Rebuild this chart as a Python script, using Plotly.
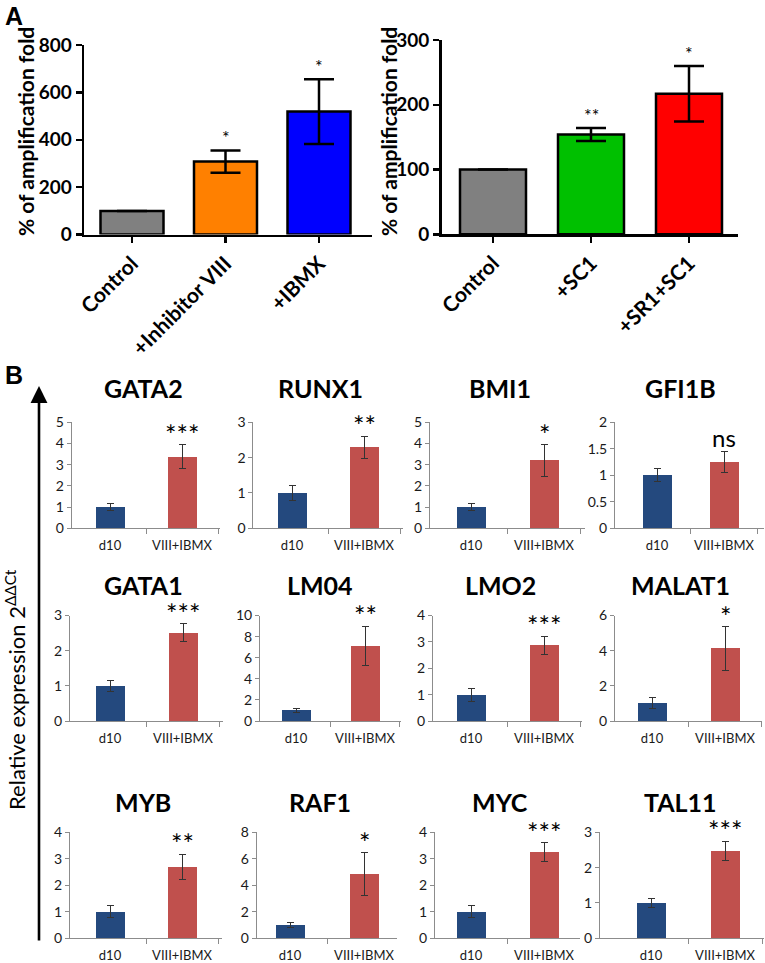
import plotly.graph_objects as go

W, H = 765, 963

# ---------------- Panel A data ----------------
a1_cats = ["Control", "+Inhibitor VIII", "+IBMX"]
a1_vals = [100, 308, 519]
a1_err = [0, 47, 137]
a1_sig = ["", "*", "*"]
a1_colors = ["#808080", "#FF8000", "#0000FF"]
a1_ticks = [0, 200, 400, 600, 800]

a2_cats = ["Control", "+SC1", "+SR1+SC1"]
a2_vals = [100, 154, 217]
a2_err = [0, 10, 43]
a2_sig = ["", "**", "*"]
a2_colors = ["#808080", "#00C000", "#FF0000"]
a2_ticks = [0, 100, 200, 300]

a_ylabel = "% of amplification fold"

# ---------------- Panel B data ----------------
genes = ["GATA2", "RUNX1", "BMI1", "GFI1B",
         "GATA1", "LM04", "LMO2", "MALAT1",
         "MYB", "RAF1", "MYC", "TAL11"]
groups = ["d10", "VIII+IBMX"]
d10_vals = [1, 1, 1, 1, 1, 1, 1, 1, 1, 1, 1, 1]
d10_err = [0.18, 0.22, 0.15, 0.12, 0.16, 0.20, 0.25, 0.31, 0.22, 0.17, 0.22, 0.12]
trt_vals = [3.37, 2.29, 3.20, 1.25, 2.51, 7.15, 2.87, 4.13, 2.70, 4.83, 3.25, 2.47]
trt_err = [0.57, 0.32, 0.75, 0.19, 0.25, 1.85, 0.35, 1.23, 0.48, 1.63, 0.35, 0.28]
sig = ["***", "**", "*", "ns", "***", "**", "***", "*", "**", "*", "***", "***"]
ymax = [5, 3, 5, 2, 3, 10, 4, 6, 4, 8, 4, 3]
ydtick = [1, 1, 1, 0.5, 1, 2, 1, 2, 1, 2, 1, 1]
b_ylabel = "Relative expression 2<sup>ΔΔCt</sup>"

# ---------------- layout geometry (pixels) ----------------
FONT = "Lato, 'Open Sans', sans-serif"
BLUE = "#24497E"
RED = "#C0504D"
AX = "#8C8C8C"


def px(x):
    return x / W


def py(y):
    return 1 - y / H


def fmt(v):
    return f"<b>{v}</b>"


fig = go.Figure()
layout = dict(width=W, height=H, margin=dict(l=0, r=0, t=0, b=0, pad=0, autoexpand=False),
              plot_bgcolor="white", paper_bgcolor="white",
              showlegend=False, font=dict(family=FONT, color="black"),
              bargap=0)
annotations = []

# Panel A subplots: (axis_x, first_center, spacing, right_end, y_bottom, y_top, ymax)
a_geo = [
    (84, 132, 93.5, 372, 234.6, 45, 800),
    (441.7, 493, 98, 738, 234.3, 40, 300),
]
a_sets = [(a1_cats, a1_vals, a1_err, a1_sig, a1_colors, a1_ticks),
          (a2_cats, a2_vals, a2_err, a2_sig, a2_colors, a2_ticks)]

for k, ((axx, c0, sp, rx, yb, yt, ym), (cats, vals, errs, sigs, cols, yt_vals)) in enumerate(zip(a_geo, a_sets)):
    n = k + 1
    xn = "x" if n == 1 else f"x{n}"
    yn = "y" if n == 1 else f"y{n}"
    idx = list(range(len(cats)))
    fig.add_trace(go.Bar(
        x=idx, y=vals, width=63 / 93.5 if k == 0 else 66 / 98,
        marker=dict(color=cols, line=dict(color="black", width=2.5)),
        error_y=dict(type="data", array=errs, visible=True, color="black",
                     thickness=2.5, width=15),
        xaxis=xn, yaxis=yn, hoverinfo="skip"))
    xkey = "xaxis" if n == 1 else f"xaxis{n}"
    ykey = "yaxis" if n == 1 else f"yaxis{n}"
    layout[xkey] = dict(domain=[px(axx), px(rx)], anchor=yn, automargin=False,
                        range=[(axx - c0) / sp, (rx - c0) / sp],
                        tickmode="array", tickvals=idx, ticktext=[fmt(c) for c in cats],
                        tickangle=-45, showline=True, linecolor="black", linewidth=2.5,
                        ticks="outside", ticklen=6, tickwidth=2.5, tickcolor="black",
                        tickfont=dict(size=21, family=FONT, color="black"),
                        showgrid=False, zeroline=False, fixedrange=True)
    layout[ykey] = dict(domain=[py(yb), py(yt)], anchor=xn, range=[0, ym], automargin=False,
                        tickmode="array", tickvals=yt_vals, ticktext=[fmt(v) for v in yt_vals],
                        showline=True, linecolor="black", linewidth=2.5,
                        ticks="outside", ticklen=6, tickwidth=2.5, tickcolor="black",
                        tickfont=dict(size=19, family=FONT, color="black"),
                        showgrid=False, zeroline=False, fixedrange=True)
    for i, s in enumerate(sigs):
        if s:
            annotations.append(dict(x=i, y=vals[i] + errs[i], xref=xn, yref=yn,
                                    text=s, showarrow=False, yanchor="bottom", xanchor="center",
                                    yshift=0, font=dict(size=18, family=FONT, color="black")))

# A y-axis titles
annotations.append(dict(x=px(25), y=py(132), xref="paper", yref="paper", text=fmt(a_ylabel),
                        textangle=-90, showarrow=False, xanchor="center", yanchor="middle",
                        font=dict(size=21, family=FONT, color="black")))
annotations.append(dict(x=px(388), y=py(132), xref="paper", yref="paper", text=fmt(a_ylabel),
                        textangle=-90, showarrow=False, xanchor="center", yanchor="middle",
                        font=dict(size=21, family=FONT, color="black")))
# panel letters
annotations.append(dict(x=px(14), y=py(16), xref="paper", yref="paper", text="<b>A</b>",
                        showarrow=False, xanchor="center", yanchor="middle",
                        font=dict(size=25, family="Liberation Sans", color="black")))
annotations.append(dict(x=px(14), y=py(375), xref="paper", yref="paper", text="<b>B</b>",
                        showarrow=False, xanchor="center", yanchor="middle",
                        font=dict(size=25, family="Liberation Sans", color="black")))

# Panel B geometry: per gene (axis_x, d10_center, trt_center)
b_cols = [
    (71.7, 110, 182), (253.3, 292, 364), (430, 471, 544), (615, 657, 724),
    (70, 110, 183), (260, 296, 365), (433, 471, 544), (615, 652, 725),
    (70, 110, 182), (256.7, 290, 364), (435, 471, 544), (600, 651, 725),
]
b_rows = [(528.3, 422.3, 388), (721, 615.5, 585), (938.3, 832.3, 801.7)]
b_title_x = [143, 320, 500, 680]

for g in range(12):
    n = g + 3
    xn, yn = f"x{n}", f"y{n}"
    axx, c0, c1 = b_cols[g]
    sp = c1 - c0
    rx = min(c1 + (c0 - axx), 764)
    yb, yt, ty = b_rows[g // 4]
    fig.add_trace(go.Bar(
        x=[0, 1], y=[d10_vals[g], trt_vals[g]], width=29 / sp,
        marker=dict(color=[BLUE, RED], line=dict(width=0)),
        error_y=dict(type="data", array=[d10_err[g], trt_err[g]], visible=True,
                     color="#333333", thickness=1, width=3.5),
        xaxis=xn, yaxis=yn, hoverinfo="skip"))
    r0 = (axx - c0) / sp
    r1 = (rx - c0) / sp
    layout[f"xaxis{n}"] = dict(domain=[px(axx), px(rx)], anchor=yn, range=[r0, r1],
                               automargin=False,
                               tickmode="array", tickvals=[0, 1], ticktext=groups,
                               ticks="", showline=True, linecolor=AX, linewidth=1,
                               ticklabelstandoff=5,
                               minor=dict(tickmode="array", tickvals=[0.5, 1.5], ticks="outside",
                                          ticklen=5, tickcolor=AX, tickwidth=1, showgrid=False),
                               tickfont=dict(size=13, family=FONT, color="#1a1a1a"),
                               showgrid=False, zeroline=False, fixedrange=True)
    layout[f"yaxis{n}"] = dict(domain=[py(yb), py(yt)], anchor=xn, range=[0, ymax[g]],
                               automargin=False,
                               tickmode="linear", tick0=0, dtick=ydtick[g],
                               showline=True, linecolor=AX, linewidth=1,
                               ticks="outside", ticklen=4, tickcolor=AX, tickwidth=1,
                               tickfont=dict(size=14, family=FONT, color="#1a1a1a"),
                               showgrid=False, zeroline=False, fixedrange=True)
    annotations.append(dict(x=px(b_title_x[g % 4]), y=py(ty), xref="paper", yref="paper",
                            text=f"<b>{genes[g]}</b>", showarrow=False,
                            xanchor="center", yanchor="middle",
                            font=dict(size=25, family=FONT, color="black")))
    if sig[g] == "ns":
        annotations.append(dict(x=1, y=trt_vals[g] + trt_err[g], xref=xn, yref=yn,
                                text="ns", showarrow=False, yanchor="bottom", xanchor="center",
                                yshift=-2, font=dict(size=24, family=FONT, color="black")))
    else:
        annotations.append(dict(x=1, y=trt_vals[g] + trt_err[g], xref=xn, yref=yn,
                                text=sig[g], showarrow=False, yanchor="bottom", xanchor="center",
                                yshift=-8, font=dict(size=27, family=FONT, color="black")))

# B vertical arrow and label
annotations.append(dict(x=px(39), y=py(386), ax=0, ay=942 - 386,
                        xref="paper", yref="paper", axref="pixel", ayref="pixel",
                        text="", showarrow=True, arrowhead=2, arrowsize=1.3,
                        arrowwidth=2.6, arrowcolor="black"))
annotations.append(dict(x=px(15), y=py(690), xref="paper", yref="paper", text=b_ylabel,
                        textangle=-90, showarrow=False, xanchor="center", yanchor="middle",
                        font=dict(size=22, family=FONT, color="black")))

layout["annotations"] = annotations
fig.update_layout(**layout)
fig.write_html("out.html",
               config={"displayModeBar": False, "staticPlot": True},
               post_script="document.body.style.margin='0';document.body.style.overflow='hidden';")
